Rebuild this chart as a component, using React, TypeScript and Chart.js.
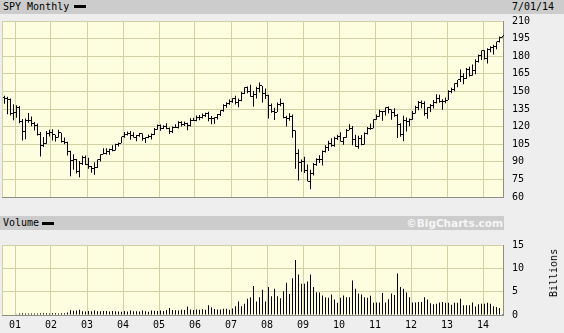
import React, { useEffect, useRef } from 'react';
import { Chart, registerables } from 'chart.js';
Chart.register(...registerables);

// Monthly bars from Sep 2000 (month -4 relative to Jan 2001) to Jul 2014
const FIRST_MONTH = -4;

const opens = [
  145.0, 143.6, 142.9, 131.5,
  132.0, 136.6, 124.0, 116.0, 125.0, 125.6, 122.4, 121.1, 113.4, 104.1, 106.0, 114.0,
  114.8, 113.0, 110.7, 114.7, 107.7, 106.7, 99.0, 91.2, 91.6, 81.5, 88.6, 93.6,
  88.0, 85.6, 84.1, 84.8, 91.7, 96.4, 97.5, 99.0, 100.8, 99.6, 105.1, 105.8,
  111.2, 113.1, 114.5, 112.6, 110.7, 112.1, 114.1, 110.2, 110.4, 111.5, 113.0, 117.4,
  121.2, 118.1, 120.4, 118.1, 115.7, 119.2, 119.1, 123.4, 122.0, 122.9, 120.7, 125.0,
  124.8, 128.0, 128.1, 129.5, 131.1, 127.0, 127.0, 127.7, 130.4, 133.6, 137.8, 140.1,
  141.8, 143.8, 140.7, 142.1, 148.2, 153.1, 150.3, 145.5, 147.4, 152.7, 154.9, 148.1,
  146.8, 137.9, 133.1, 132.3, 138.6, 140.0, 128.0, 126.7, 128.3, 116.6, 96.9, 89.6,
  90.3, 82.6, 73.5, 79.8, 87.3, 91.9, 91.9, 98.8, 102.1, 105.7, 103.6, 109.6,
  111.5, 107.4, 110.5, 116.9, 118.7, 108.9, 103.1, 110.2, 104.9, 114.1, 118.3, 118.1,
  125.8, 128.6, 132.7, 132.6, 136.4, 134.5, 132.1, 129.2, 121.9, 113.1, 125.3, 124.7,
  125.8, 131.2, 136.6, 140.9, 139.8, 131.0, 136.2, 137.9, 140.7, 144.1, 141.2, 141.6,
  142.6, 149.8, 151.5, 156.9, 159.8, 163.1, 160.6, 168.6, 163.3, 168.2, 175.7, 180.6,
  184.8, 178.3, 186.0, 187.2, 188.4, 192.4, 196.0,
];

const highs = [
  146.2, 145.5, 143.9, 139.0,
  138.3, 137.6, 126.4, 126.9, 131.6, 128.7, 124.0, 122.6, 115.5, 111.1, 116.3, 117.4,
  117.7, 113.0, 117.3, 114.8, 110.7, 107.1, 99.5, 96.5, 92.4, 90.7, 95.2, 95.4,
  93.5, 86.5, 89.6, 92.0, 96.5, 101.5, 101.5, 101.1, 104.0, 105.4, 106.4, 111.3,
  115.5, 115.9, 116.3, 115.1, 112.8, 114.6, 114.1, 111.0, 113.2, 114.2, 118.9, 121.8,
  121.8, 121.2, 122.9, 119.2, 120.0, 122.0, 124.5, 124.6, 124.3, 123.3, 127.1, 127.6,
  129.5, 129.8, 131.1, 131.8, 132.7, 129.1, 128.0, 130.7, 134.0, 139.0, 140.8, 143.2,
  144.2, 146.2, 143.9, 149.8, 153.6, 154.1, 155.6, 150.4, 153.9, 157.6, 154.6, 152.4,
  147.2, 139.6, 136.0, 140.5, 144.0, 140.4, 129.2, 131.3, 130.3, 116.7, 100.8, 91.9,
  94.4, 87.7, 83.3, 88.9, 93.0, 95.6, 99.7, 104.0, 108.0, 110.1, 111.4, 113.0,
  115.1, 111.2, 118.0, 122.0, 120.5, 113.1, 112.1, 112.9, 114.9, 119.6, 122.7, 126.3,
  130.3, 134.4, 133.2, 136.5, 137.1, 134.5, 135.7, 130.7, 122.9, 129.3, 127.8, 126.9,
  133.4, 137.8, 141.9, 142.2, 141.5, 136.4, 139.2, 142.7, 147.5, 147.1, 143.4, 144.8,
  151.0, 153.1, 157.0, 159.8, 168.7, 165.4, 169.9, 171.0, 173.0, 177.5, 181.4, 184.9,
  185.1, 186.8, 188.4, 189.7, 192.4, 196.8, 197.3,
];

const lows = [
  139.5, 130.6, 129.5, 125.4,
  127.5, 122.8, 108.1, 109.2, 123.2, 120.3, 116.6, 112.5, 94.5, 102.7, 105.4, 111.5,
  108.2, 107.4, 110.7, 106.4, 104.9, 95.3, 77.6, 83.3, 80.0, 76.9, 87.2, 87.3,
  84.0, 80.6, 78.9, 84.8, 90.3, 96.4, 96.2, 96.1, 99.0, 99.6, 103.1, 105.8,
  110.5, 112.4, 108.7, 110.7, 107.6, 111.3, 107.9, 106.1, 110.1, 109.0, 112.8, 117.4,
  116.4, 118.0, 117.7, 113.6, 114.6, 118.8, 118.4, 120.1, 120.5, 116.8, 120.1, 124.7,
  124.6, 125.4, 126.8, 128.1, 124.5, 121.9, 122.5, 126.1, 129.1, 132.7, 136.1, 138.6,
  140.4, 138.9, 136.4, 141.6, 147.7, 148.4, 145.4, 137.1, 143.9, 149.0, 140.6, 143.6,
  127.0, 131.7, 125.7, 132.4, 137.3, 127.2, 120.0, 124.9, 110.6, 84.0, 74.1, 81.6,
  80.4, 73.5, 66.7, 78.3, 86.6, 88.9, 86.9, 97.9, 99.2, 102.9, 102.9, 108.6,
  107.2, 104.5, 110.5, 117.1, 104.1, 102.8, 101.1, 104.0, 104.8, 113.2, 117.3, 118.7,
  125.8, 128.3, 124.9, 129.5, 131.2, 125.8, 128.3, 110.2, 111.4, 107.5, 115.9, 120.2,
  125.9, 131.2, 134.0, 135.7, 129.2, 126.7, 132.5, 135.5, 139.7, 140.3, 134.3, 139.8,
  142.6, 148.5, 150.2, 153.6, 158.1, 156.0, 160.5, 162.8, 163.3, 164.7, 174.6, 176.8,
  177.1, 173.8, 183.4, 181.4, 186.0, 191.6, 195.9,
];

const closes = [
  143.6, 142.9, 131.5, 132.0,
  136.6, 124.0, 116.0, 125.0, 125.6, 122.4, 121.1, 113.4, 104.1, 106.0, 114.0, 114.8,
  113.0, 110.7, 114.7, 107.7, 106.7, 99.0, 91.2, 91.6, 81.5, 88.6, 93.6, 88.0,
  85.6, 84.1, 84.8, 91.7, 96.4, 97.5, 99.0, 100.8, 99.6, 105.1, 105.8, 111.2,
  113.1, 114.5, 112.6, 110.7, 112.1, 114.1, 110.2, 110.4, 111.5, 113.0, 117.4, 121.2,
  118.1, 120.4, 118.1, 115.7, 119.2, 119.1, 123.4, 122.0, 122.9, 120.7, 125.0, 124.8,
  128.0, 128.1, 129.5, 131.1, 127.0, 127.0, 127.7, 130.4, 133.6, 137.8, 140.1, 141.8,
  143.8, 140.7, 142.1, 148.2, 153.1, 150.3, 145.5, 147.4, 152.7, 154.9, 148.1, 146.8,
  137.9, 133.1, 132.3, 138.6, 140.0, 128.0, 126.7, 128.3, 116.6, 96.9, 89.6, 90.3,
  82.6, 73.5, 79.8, 87.3, 91.9, 91.9, 98.8, 102.1, 105.7, 103.6, 109.6, 111.5,
  107.4, 110.5, 116.9, 118.7, 108.9, 103.1, 110.2, 104.9, 114.1, 118.3, 118.1, 125.8,
  128.6, 132.7, 132.6, 136.4, 134.5, 132.1, 129.2, 121.9, 113.1, 125.3, 124.7, 125.8,
  131.2, 136.6, 140.9, 139.8, 131.0, 136.2, 137.9, 140.7, 144.1, 141.2, 141.6, 142.6,
  149.8, 151.5, 156.9, 159.8, 163.1, 160.6, 168.6, 163.3, 168.2, 175.7, 180.6, 184.8,
  178.3, 186.0, 187.2, 188.4, 192.4, 196.0, 197.3,
];

// Volume in billions of shares
const volumes = [
  0.1, 0.1, 0.1, 0.1,
  0.15, 0.3, 0.35, 0.3, 0.3, 0.3, 0.3, 0.3, 0.35, 0.4, 0.35, 0.3,
  0.35, 0.35, 0.3, 0.35, 0.4, 0.55, 1.0, 0.9, 0.95, 1.1, 0.8, 0.75,
  0.85, 0.8, 0.95, 0.8, 0.8, 0.85, 0.85, 0.75, 0.85, 0.8, 0.75, 0.7,
  0.85, 0.75, 0.95, 0.8, 0.8, 0.75, 0.95, 0.8, 0.7, 0.95, 0.9, 0.85,
  0.95, 0.85, 1.05, 1.5, 1.05, 1.0, 0.95, 1.1, 1.05, 1.8, 1.2, 1.05,
  1.2, 1.1, 1.25, 1.15, 2.1, 1.6, 1.3, 1.2, 1.2, 1.35, 1.35, 1.15,
  1.4, 1.9, 2.9, 1.9, 2.4, 3.5, 3.8, 6.2, 2.9, 3.8, 5.4, 2.9,
  6.0, 4.0, 5.6, 4.0, 3.6, 5.1, 6.9, 4.5, 7.9, 11.8, 8.7, 6.7,
  6.7, 7.2, 8.7, 6.0, 4.9, 4.8, 4.2, 3.8, 3.7, 4.4, 3.3, 2.6,
  3.7, 4.2, 3.8, 3.8, 7.4, 5.6, 4.6, 4.4, 3.8, 3.7, 4.1, 2.6,
  2.7, 2.7, 4.7, 2.7, 3.4, 4.6, 4.3, 8.9, 6.0, 5.6, 4.8, 3.8,
  2.7, 2.7, 2.8, 2.8, 3.8, 3.3, 2.5, 2.3, 2.4, 2.7, 2.8, 2.6,
  2.6, 2.2, 2.6, 2.6, 3.5, 2.1, 2.1, 2.1, 2.7, 1.8, 2.3, 2.4,
  2.4, 2.6, 2.4, 1.9, 1.7, 1.5, 0.2,
];

// Year boundaries (month index of each January, 2001..2014) and their labels
const yearStarts = [0, 12, 24, 36, 48, 60, 72, 84, 96, 108, 120, 132, 144, 156];
const yearLabels = ['01', '02', '03', '04', '05', '06', '07', '08', '09', '10', '11', '12', '13', '14'];
const priceMin = 60;
const priceMax = 210;
const priceStep = 15;
const volumeMin = 0;
const volumeMax = 15;
const volumeStep = 5;

const X_MIN = -29 / 6;
const X_MAX = X_MIN + 167;

const GRID = '#d3d1a3';
const BORDER = '#8e8e86';
const PLOT_BG = '#fdfde0';
const MONO = '"DejaVu Sans Mono", monospace';

const plotBg = {
  id: 'plotBg',
  beforeDraw(chart: any) {
    const { ctx, chartArea: a } = chart;
    ctx.save();
    ctx.fillStyle = PLOT_BG;
    ctx.fillRect(a.left, a.top, a.right - a.left, a.bottom - a.top);
    ctx.fillStyle = GRID;
    ctx.fillRect(Math.floor(a.left), a.top, 1, a.bottom - a.top);
    ctx.restore();
  },
};

const ohlcTicks = {
  id: 'ohlcTicks',
  afterDatasetsDraw(chart: any) {
    const { ctx } = chart;
    const x = chart.scales.x;
    const y = chart.scales.y;
    ctx.save();
    ctx.fillStyle = '#000';
    opens.forEach((o, i) => {
      const px = Math.floor(x.getPixelForValue(FIRST_MONTH + i));
      ctx.fillRect(px - 1, Math.floor(y.getPixelForValue(o)), 1, 1);
      ctx.fillRect(px + 1, Math.floor(y.getPixelForValue(closes[i])), 1, 1);
    });
    ctx.restore();
  },
};

function xScale(showLabels: boolean) {
  return {
    type: 'linear',
    min: X_MIN,
    max: X_MAX,
    offset: false,
    grid: { color: GRID, drawTicks: false, offset: false, lineWidth: 1 },
    border: { color: BORDER, width: 1 },
    ticks: {
      display: showLabels,
      autoSkip: false,
      maxRotation: 0,
      padding: 4,
      color: '#000',
      font: { family: MONO, size: 10 },
      callback: (_v: any, i: number) => yearLabels[i],
    },
    afterBuildTicks: (s: any) => {
      s.ticks = yearStarts.map((v) => ({ value: v - 0.5 }));
    },
    afterFit: (s: any) => {
      s.height = showLabels ? 18 : 0;
    },
  };
}

function yScale(min: number, max: number, step: number) {
  return {
    position: 'right',
    min,
    max,
    grid: { color: GRID, drawTicks: false, lineWidth: 1 },
    border: { color: BORDER, width: 1 },
    ticks: { stepSize: step, padding: 9, color: '#000', font: { family: MONO, size: 10 } },
    afterFit: (s: any) => {
      s.width = 61;
    },
  };
}

const barStyle = {
  backgroundColor: '#000',
  borderWidth: 0,
  barThickness: 1,
  inflateAmount: 0,
  borderSkipped: false,
};

export default function App() {
  const priceRef = useRef<HTMLCanvasElement>(null);
  const volRef = useRef<HTMLCanvasElement>(null);

  useEffect(() => {
    document.body.style.margin = '0';
    const price = new Chart(priceRef.current as HTMLCanvasElement, {
      type: 'bar',
      data: {
        datasets: [
          {
            data: highs.map((h, i) => ({ x: FIRST_MONTH + i, y: [lows[i], h] })) as any,
            ...barStyle,
          } as any,
        ],
      },
      options: {
        animation: false,
        responsive: false,
        maintainAspectRatio: false,
        events: [],
        layout: { padding: { top: 21, left: 2, right: 0, bottom: 6 } },
        plugins: { legend: { display: false }, tooltip: { enabled: false } },
        scales: { x: xScale(false) as any, y: yScale(priceMin, priceMax, priceStep) as any },
      },
      plugins: [plotBg, ohlcTicks],
    });
    const vol = new Chart(volRef.current as HTMLCanvasElement, {
      type: 'bar',
      data: {
        datasets: [
          {
            data: volumes.map((v, i) => ({ x: FIRST_MONTH + i, y: v })) as any,
            ...barStyle,
          } as any,
        ],
      },
      options: {
        animation: false,
        responsive: false,
        maintainAspectRatio: false,
        events: [],
        layout: { padding: { top: 7, left: 2, right: 0, bottom: 0 } },
        plugins: { legend: { display: false }, tooltip: { enabled: false } },
        scales: { x: xScale(true) as any, y: yScale(volumeMin, volumeMax, volumeStep) as any },
      },
      plugins: [plotBg],
    });
    return () => {
      price.destroy();
      vol.destroy();
    };
  }, []);

  const text: React.CSSProperties = {
    position: 'absolute',
    fontFamily: MONO,
    fontSize: 10,
    lineHeight: '12px',
    color: '#000',
    whiteSpace: 'nowrap',
  };

  return (
    <div style={{ position: 'relative', width: 564, height: 333, background: '#eeeeee', overflow: 'hidden' }}>
      <div style={{ position: 'absolute', left: 0, top: 0, width: 564, height: 14, background: '#cccccc' }} />
      <span style={{ ...text, left: 3, top: 1 }}>SPY Monthly</span>
      <div style={{ position: 'absolute', left: 74, top: 5, width: 12, height: 3, background: '#000' }} />
      <span style={{ ...text, left: 512, top: 1 }}>7/01/14</span>
      <canvas ref={priceRef} width={564} height={212} style={{ position: 'absolute', left: 0, top: 0 }} />
      <div style={{ position: 'absolute', left: 0, top: 216, width: 504, height: 14, background: '#cccccc' }} />
      <span style={{ ...text, left: 3, top: 217 }}>Volume</span>
      <div style={{ position: 'absolute', left: 42, top: 222, width: 12, height: 3, background: '#000' }} />
      <span
        style={{
          ...text,
          right: 61,
          top: 216,
          fontFamily: '"DejaVu Sans", sans-serif',
          fontWeight: 'bold',
          fontSize: 10.5,
          lineHeight: '14px',
          color: '#f6f6f6',
        }}
      >
        ©BigCharts.com
      </span>
      <canvas ref={volRef} width={564} height={103} style={{ position: 'absolute', left: 0, top: 230 }} />
      <span
        style={{
          ...text,
          left: 554,
          top: 273,
          transform: 'translate(-50%, -50%) rotate(-90deg)',
        }}
      >
        Billions
      </span>
    </div>
  );
}
